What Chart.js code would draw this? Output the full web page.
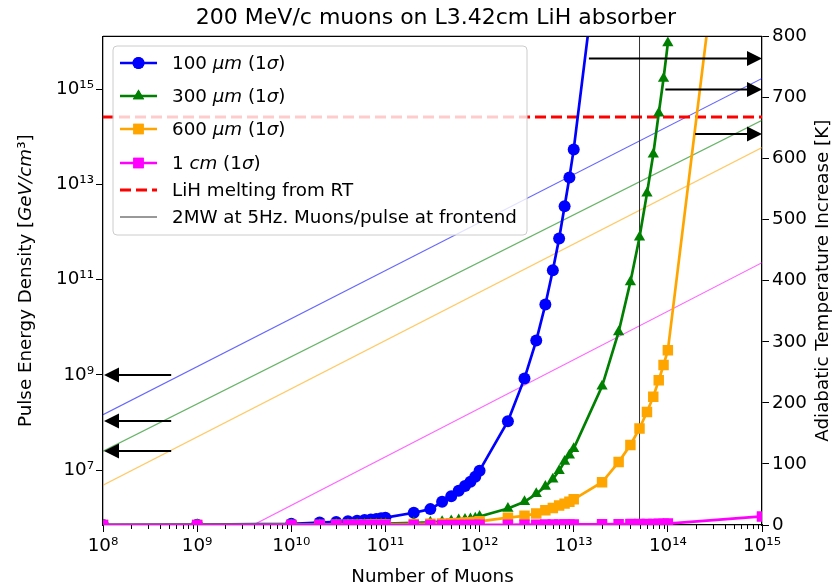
<!DOCTYPE html>
<html lang="en">

<head>
    <meta charset="UTF-8">
    <title>200 MeV/c muons on L3.42cm LiH absorber</title>
    <style>
        html, body { margin: 0; padding: 0; background: #fff; }
    </style>
</head>

<body>
    <canvas id="chart" width="836" height="588"></canvas>

    <script src="https://cdn.jsdelivr.net/npm/chart.js@4/dist/chart.umd.min.js"></script>

    <script>
        // number of muons per pulse, shared by the four temperature curves
        const muons = [1e8, 1e9, 1e10,
            2e10, 3e10, 4e10, 5e10, 6e10, 7e10, 8e10, 9e10, 1e11,
            2e11, 3e11, 4e11, 5e11, 6e11, 7e11, 8e11, 9e11, 1e12,
            2e12, 3e12, 4e12, 5e12, 6e12, 7e12, 8e12, 9e12, 1e13,
            2e13, 3e13, 4e13, 5e13, 6e13, 7e13, 8e13, 9e13, 1e14, 1e15]

        // adiabatic temperature increase [K] (right axis)
        const temp100um = [0.1, 0.5, 2,
            4, 5, 6, 7, 8, 9, 10, 11, 12,
            20, 26, 38, 47, 56, 64, 71, 79, 89,
            170, 240, 302, 361, 417, 469, 522, 569, 615,
            990, null, null, null, null, null, null, null, null, null]
        const temp300um = [0, 0.1, 0.3,
            0.6, 0.8, 1.0, 1.2, 1.4, 1.6, 1.8, 2.0, 2.2,
            3.5, 4.5, 5.5, 6.5, 8, 9, 10, 11, 14,
            27, 38, 51, 63, 75, 89, 104, 114, 125,
            227, 316, 398, 471, 543, 607, 674, 731, 789, null]
        const temp600um = [0, 0, 0.1,
            0.2, 0.3, 0.4, 0.5, 0.6, 0.7, 0.8, 0.9, 1,
            1.5, 2, 2.5, 3, 3.5, 4, 4.5, 5, 6,
            12, 15, 19, 24, 28, 32, 35, 38, 42,
            70, 103, 131, 158, 185, 210, 237, 262, 286, 1540]
        const temp1cm = [0, 0, 0,
            0.1, 0.1, 0.1, 0.1, 0.1, 0.1, 0.1, 0.1, 0.1,
            0.2, 0.2, 0.2, 0.2, 0.2, 0.2, 0.2, 0.2, 0.3,
            0.4, 0.5, 0.6, 0.7, 0.7, 0.8, 0.9, 0.9, 1.0,
            1.2, 1.4, 1.5, 1.6, 1.7, 1.8, 1.9, 2.0, 2.4, 14]

        // pulse energy density [GeV/cm^3] at the two ends of the x range (left axis)
        const densityEnds = [1e8, 1e15]
        const density100um = [1.45e8, 1.7e15]
        const density300um = [2.5e7, 2.24e14]
        const density600um = [4.8e6, 6.0e13]
        const density1cm = [1.65e4, 2.28e11]

        // reference lines
        const meltingTemp = 668          // K, LiH melting from room temperature
        const frontendMuons = 5e13       // 2MW at 5Hz

        // arrows
        const rightArrowTemp = [764, 713, 640]
        const rightArrowFrom = [1.45e13, 9.4e13, 1.95e14]
        const leftArrowDensity = [1e9, 1.07e8, 2.5e7]
        const leftArrowFrom = 5.3e8

        // ticks
        const xTicks = [1e8, 1e9, 1e10, 1e11, 1e12, 1e13, 1e14, 1e15]
        const xMinor = [2, 3, 4, 5, 6, 7, 8, 9]
        const yTicks = [1e7, 1e9, 1e11, 1e13, 1e15]
        const tempTicks = [0, 100, 200, 300, 400, 500, 600, 700, 800]

        const seriesNames = ['100 μm (1σ)', '300 μm (1σ)', '600 μm (1σ)', '1 cm (1σ)']
        const meltingName = 'LiH melting from RT'
        const frontendName = '2MW at 5Hz. Muons/pulse at frontend'

        const FONT = 'DejaVu Sans'
        const FS = 18.3
        const BLUE = '#0000ff', GREEN = '#008000', ORANGE = '#ffa500', MAGENTA = '#ff00ff'

        const sup = { '0': '⁰', '1': '¹', '2': '²', '3': '³', '4': '⁴', '5': '⁵', '6': '⁶', '7': '⁷', '8': '⁸', '9': '⁹' }
        function powLabel(v) {
            const e = String(Math.round(Math.log10(v)))
            return '10' + e.split('').map(c => sup[c]).join('')
        }

        function pts(xs, ys) {
            return xs.map((x, i) => ({ x: x, y: ys[i] }))
        }

        function thick(label, data, color, style, radius) {
            return {
                label: label, data: pts(muons, data), yAxisID: 'y2',
                borderColor: color, backgroundColor: color, borderWidth: 2.7,
                pointStyle: style, pointRadius: radius, pointHoverRadius: radius,
                pointBorderWidth: 0, spanGaps: false
            }
        }

        function thin(data, color) {
            return {
                label: '', data: pts(densityEnds, data), yAxisID: 'y',
                borderColor: color, borderWidth: 1.2, pointRadius: 0
            }
        }

        // draws a string with μm / cm / σ / GeV/cm in italics, like the mathtext in the original
        const italicRe = /^(GeV\/cm|μm|cm|σ)$/
        function textParts(str) {
            return str.split(/(GeV\/cm|μm|cm|σ)/).filter(p => p !== '')
        }
        function mixedWidth(c, str) {
            let w = 0
            for (const p of textParts(str)) {
                c.font = (italicRe.test(p) ? 'italic ' : '') + FS + 'px "' + FONT + '"'
                w += c.measureText(p).width
            }
            return w
        }
        function mixedText(c, str, x, y) {
            let cx = x
            for (const p of textParts(str)) {
                c.font = (italicRe.test(p) ? 'italic ' : '') + FS + 'px "' + FONT + '"'
                c.fillText(p, cx, y)
                cx += c.measureText(p).width
            }
        }

        function arrow(c, x0, x1, yy) {
            const dir = Math.sign(x1 - x0), hl = 15, hw = 7.5
            c.strokeStyle = '#000'
            c.fillStyle = '#000'
            c.lineWidth = 2
            c.beginPath()
            c.moveTo(x0, yy)
            c.lineTo(x1 - dir * hl, yy)
            c.stroke()
            c.beginPath()
            c.moveTo(x1, yy)
            c.lineTo(x1 - dir * hl, yy - hw)
            c.lineTo(x1 - dir * hl, yy + hw)
            c.closePath()
            c.fill()
        }

        const legendRows = [
            { text: seriesNames[0], color: BLUE, style: 'circle', radius: 6, width: 2.7, y: 63 },
            { text: seriesNames[1], color: GREEN, style: 'triangle', radius: 6.5, width: 2.7, y: 96 },
            { text: seriesNames[2], color: ORANGE, style: 'rect', radius: 7.4, width: 2.7, y: 129 },
            { text: seriesNames[3], color: MAGENTA, style: 'rect', radius: 7.4, width: 2.7, y: 163 },
            { text: meltingName, color: '#ff0000', dash: [11, 5], width: 3, y: 190 },
            { text: frontendName, color: '#333', width: 1, y: 217 }
        ]

        const decor = {
            id: 'decor',
            afterDatasetsDraw(chart) {
                const c = chart.ctx, a = chart.chartArea
                const sx = chart.scales.x, sy = chart.scales.y, st = chart.scales.y2
                c.save()

                // top spine
                c.strokeStyle = '#000'
                c.lineWidth = 1.3
                c.beginPath()
                c.moveTo(a.left, a.top)
                c.lineTo(a.right, a.top)
                c.stroke()

                // minor ticks on the log x axis
                c.lineWidth = 1
                for (const d of xTicks.slice(0, -1)) {
                    for (const k of xMinor) {
                        const px = Math.round(sx.getPixelForValue(k * d)) + 0.5
                        c.beginPath()
                        c.moveTo(px, a.bottom)
                        c.lineTo(px, a.bottom + 4)
                        c.stroke()
                    }
                }

                // arrows
                rightArrowTemp.forEach((t, i) => {
                    arrow(c, sx.getPixelForValue(rightArrowFrom[i]), sx.getPixelForValue(1e15), st.getPixelForValue(t))
                })
                leftArrowDensity.forEach(v => {
                    arrow(c, sx.getPixelForValue(leftArrowFrom), sx.getPixelForValue(1e8) + 1, sy.getPixelForValue(v))
                })

                // legend
                const bx = 113, by = 46, bw = 414, bh = 189
                c.beginPath()
                c.roundRect(bx, by, bw, bh, 4)
                c.fillStyle = 'rgba(255,255,255,0.8)'
                c.fill()
                c.strokeStyle = '#cccccc'
                c.lineWidth = 1
                c.stroke()
                for (const r of legendRows) {
                    c.strokeStyle = r.color
                    c.lineWidth = r.width
                    c.setLineDash(r.dash || [])
                    c.beginPath()
                    c.moveTo(120, r.y)
                    c.lineTo(157, r.y)
                    c.stroke()
                    c.setLineDash([])
                    if (r.style) {
                        c.fillStyle = r.color
                        c.lineWidth = 0
                        Chart.helpers.drawPoint(c, { pointStyle: r.style, radius: r.radius, rotation: 0, borderWidth: 0 }, 138.5, r.y)
                        c.fill()
                    }
                    c.fillStyle = '#000'
                    c.textBaseline = 'middle'
                    c.textAlign = 'left'
                    mixedText(c, r.text, 172, r.y + 1)
                }
                c.restore()
            },
            afterDraw(chart) {
                const c = chart.ctx, a = chart.chartArea
                const midY = (a.top + a.bottom) / 2
                c.save()
                c.fillStyle = '#000'
                c.textBaseline = 'middle'
                c.textAlign = 'left'

                const leftTitle = 'Pulse Energy Density [GeV/cm³]'
                c.translate(26, midY)
                c.rotate(-Math.PI / 2)
                mixedText(c, leftTitle, -mixedWidth(c, leftTitle) / 2, 0)
                c.restore()

                c.save()
                c.fillStyle = '#000'
                c.textBaseline = 'middle'
                c.textAlign = 'center'
                c.font = FS + 'px "' + FONT + '"'
                c.translate(823, midY)
                c.rotate(-Math.PI / 2)
                c.fillText('Adiabatic Temperature Increase [K]', 0, 0)
                c.restore()
            }
        }

        Chart.defaults.font.family = FONT
        Chart.defaults.font.size = FS
        Chart.defaults.color = '#000'

        const ctx = document.getElementById('chart').getContext('2d')

        new Chart(ctx, {
            type: 'line',
            data: {
                datasets: [
                    // first dataset is drawn on top
                    thick(seriesNames[3], temp1cm, MAGENTA, 'rect', 7.4),
                    thick(seriesNames[2], temp600um, ORANGE, 'rect', 7.4),
                    thick(seriesNames[1], temp300um, GREEN, 'triangle', 6.5),
                    thick(seriesNames[0], temp100um, BLUE, 'circle', 6),
                    {
                        label: frontendName, yAxisID: 'y2',
                        data: [{ x: frontendMuons, y: 0 }, { x: frontendMuons, y: 800 }],
                        borderColor: '#333', borderWidth: 1, pointRadius: 0
                    },
                    {
                        label: meltingName, yAxisID: 'y2',
                        data: [{ x: 1e8, y: meltingTemp }, { x: 1e15, y: meltingTemp }],
                        borderColor: '#ff0000', borderWidth: 3, borderDash: [11, 5], pointRadius: 0
                    },
                    thin(density1cm, 'rgba(255,0,255,0.6)'),
                    thin(density600um, 'rgba(255,165,0,0.6)'),
                    thin(density300um, 'rgba(0,128,0,0.6)'),
                    thin(density100um, 'rgba(0,0,255,0.6)')
                ]
            },
            options: {
                responsive: false,
                animation: false,
                events: [],
                layout: { padding: { left: 36, right: 0, top: 0, bottom: 0 } },
                plugins: {
                    legend: { display: false },
                    tooltip: { enabled: false },
                    title: {
                        display: true,
                        text: '200 MeV/c muons on L3.42cm LiH absorber',
                        font: { size: 22, weight: 'normal' },
                        color: '#000',
                        padding: { top: 5, bottom: 5 }
                    }
                },
                scales: {
                    x: {
                        type: 'logarithmic',
                        min: 1e8,
                        max: 1e15,
                        afterBuildTicks: s => { s.ticks = xTicks.map(v => ({ value: v })) },
                        afterFit: s => { s.height = 63 },
                        ticks: { callback: v => powLabel(v), autoSkip: false, maxRotation: 0, padding: 3 },
                        grid: { drawOnChartArea: false, tickLength: 7, tickColor: '#000', tickWidth: 1 },
                        border: { color: '#000', width: 1.3 },
                        title: { display: true, text: 'Number of Muons', padding: { top: 0, bottom: 0 } }
                    },
                    y: {
                        type: 'logarithmic',
                        position: 'left',
                        min: 7.0e5,
                        max: 1.3e16,
                        afterBuildTicks: s => { s.ticks = yTicks.map(v => ({ value: v })) },
                        afterFit: s => { s.width = 67 },
                        ticks: { callback: v => powLabel(v), autoSkip: false, padding: 2 },
                        grid: { drawOnChartArea: false, tickLength: 7, tickColor: '#000', tickWidth: 1 },
                        border: { color: '#000', width: 1.3 }
                    },
                    y2: {
                        type: 'linear',
                        position: 'right',
                        min: 0,
                        max: 800,
                        afterBuildTicks: s => { s.ticks = tempTicks.map(v => ({ value: v })) },
                        afterFit: s => { s.width = 74 },
                        ticks: { autoSkip: false, padding: 3 },
                        grid: { drawOnChartArea: false, tickLength: 7, tickColor: '#000', tickWidth: 1 },
                        border: { color: '#000', width: 1.3 }
                    }
                }
            },
            plugins: [decor]
        })
    </script>

</body>

</html>
